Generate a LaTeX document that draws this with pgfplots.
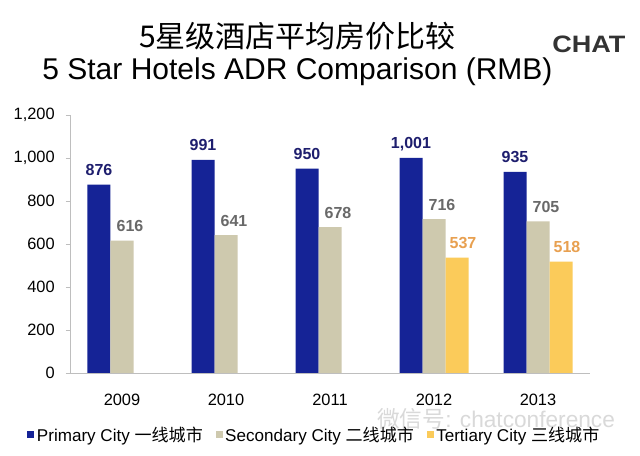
\documentclass[border=0pt]{standalone}
\usepackage{pgfplots}
\pgfplotsset{compat=1.18}
\usepackage{fontspec}
\setmainfont{Liberation Sans}
\newfontfamily\cjk{Noto Sans CJK SC}
\definecolor{prim}{RGB}{21,35,150}
\definecolor{seco}{RGB}{206,201,174}
\definecolor{tert}{RGB}{251,203,90}
\definecolor{primlab}{RGB}{30,30,110}
\definecolor{secolab}{RGB}{105,105,105}
\definecolor{tertlab}{RGB}{232,160,80}
\definecolor{axgray}{RGB}{190,190,190}
\begin{document}
\begin{tikzpicture}
\path[use as bounding box, fill=white] (0,0) rectangle (480pt,342pt);
% titles
\node[anchor=base, inner sep=0pt, font=\cjk\fontsize{22.5}{26}\selectfont] at (223.1pt,306pt) {5星级酒店平均房价比较};
\node[anchor=base, inner sep=0pt, font=\fontsize{22.5}{26}\selectfont] at (223.1pt,282pt) {5 Star Hotels ADR Comparison (RMB)};
\node[anchor=base west, inner sep=0pt, xscale=1.14, text=black!80, font=\bfseries\fontsize{17.8}{20}\selectfont] at (414pt,302.25pt) {CHAT};
% watermark
\node[anchor=base west, inner sep=0pt, text=black!15, font=\fontsize{17}{19}\selectfont] at (282.75pt,21pt) {{\cjk 微信号}: chatconference};
\begin{axis}[
  scale only axis,
  width=390pt, height=193.5pt,
  at={(52.5pt,62.25pt)}, anchor=south west,
  xmin=-0.5, xmax=4.5, ymin=0, ymax=1200,
  axis x line*=bottom, axis y line*=left,
  axis line style={axgray},
  ytick={0,200,...,1200},
  xtick={0,1,2,3,4},
  xticklabels={2009,2010,2011,2012,2013},
  major x tick style={draw=none},
  extra x ticks={-0.5,0.5,1.5,2.5,3.5,4.5},
  extra x tick labels={},
  extra x tick style={tick style={axgray}, major tick length=5pt},
  major y tick style={axgray},
  tick align=outside,
  major tick length=3pt,
  /pgf/number format/.cd, 1000 sep={,}, assume math mode=true, /pgfplots/.cd,
  ticklabel style={font=\fontsize{12.3}{14}\selectfont},
  xticklabel style={anchor=base, inner sep=0pt, yshift=-21.75pt},
  yticklabel style={anchor=east, inner sep=0pt, xshift=-8.25pt},
  ybar, bar width=17.25pt,
  nodes near coords,
  every node near coord/.append style={font=\bfseries\fontsize{12}{14}\selectfont, anchor=base, inner sep=0pt, yshift=6.75pt},
  legend columns=3,
  legend style={at={(0.4705,-0.2403)}, anchor=center, draw=none, fill=none,
    font=\fontsize{12.8}{15}\selectfont,
    /tikz/every odd column/.append style={column sep=0pt},
    /tikz/every even column/.append style={column sep=7.5pt}},
  legend image code/.code={\fill[#1] (0pt,-2.2pt) rectangle (5.25pt,3.05pt);},
  clip=false,
]
\addplot[fill=prim, draw=none, bar shift=-17.25pt, every node near coord/.append style={text=primlab}]
  coordinates {(0,876) (1,991) (2,950) (3,1001) (4,935)};
\addlegendentry{Primary City {\cjk 一线城市}}
\addplot[fill=seco, draw=none, bar shift=0pt, every node near coord/.append style={text=secolab, xshift=6pt}]
  coordinates {(0,616) (1,641) (2,678) (3,716) (4,705)};
\addlegendentry{Secondary City {\cjk 二线城市}}
\addplot[fill=tert, draw=none, bar shift=17.25pt, every node near coord/.append style={text=tertlab, xshift=4.5pt}]
  coordinates {(3,537) (4,518)};
\addlegendentry{Tertiary City {\cjk 三线城市}}
\end{axis}
\end{tikzpicture}
\end{document}
